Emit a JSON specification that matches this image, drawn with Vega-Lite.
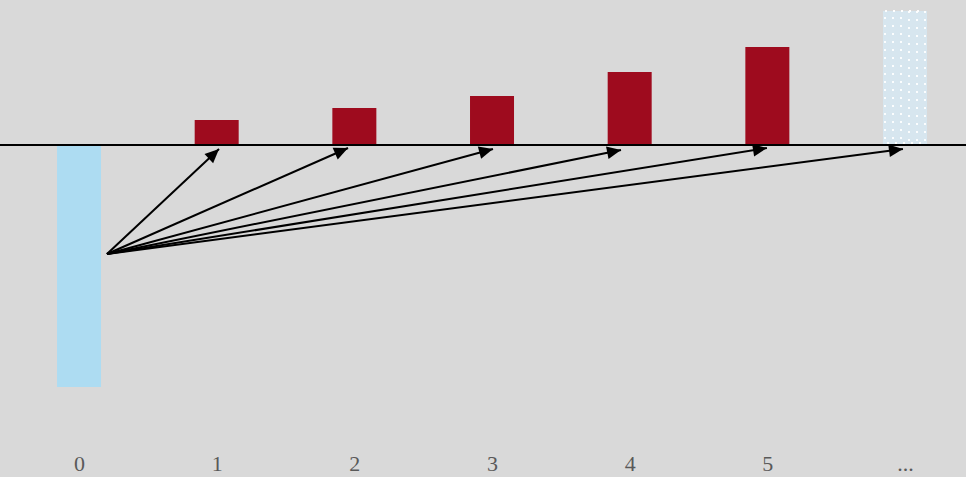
{
  "$schema": "https://vega.github.io/schema/vega-lite/v6.json",
  "width": 966,
  "height": 477,
  "autosize": {"type": "none"},
  "padding": 0,
  "background": "#d9d9d9",
  "config": {"view": {"stroke": null}},
  "datasets": {
    "bars": [
      {"period": 0, "value": -242, "kind": "outflow"},
      {"period": 1, "value": 25, "kind": "inflow"},
      {"period": 2, "value": 37, "kind": "inflow"},
      {"period": 3, "value": 49, "kind": "inflow"},
      {"period": 4, "value": 73, "kind": "inflow"},
      {"period": 5, "value": 98, "kind": "inflow"},
      {"period": 6, "value": 134, "kind": "more"}
    ],
    "arrows": [
      {"target": 1, "x0": 0.203, "y0": -109, "x": 1.017, "y": -4},
      {"target": 2, "x0": 0.203, "y0": -109, "x": 1.954, "y": -3},
      {"target": 3, "x0": 0.203, "y0": -109, "x": 3.007, "y": -4},
      {"target": 4, "x0": 0.203, "y0": -109, "x": 3.937, "y": -5},
      {"target": 5, "x0": 0.203, "y0": -109, "x": 4.997, "y": -3},
      {"target": 6, "x0": 0.203, "y0": -109, "x": 5.985, "y": -4}
    ]
  },
  "layer": [
    {
      "data": {"name": "bars"},
      "mark": {"type": "bar", "size": 44, "orient": "vertical"},
      "encoding": {
        "x": {
          "field": "period", "type": "quantitative",
          "scale": {"domain": [-0.574, 6.443], "nice": false, "zero": false, "padding": 0},
          "axis": {
            "values": [0, 1, 2, 3, 4, 5, 6],
            "format": "d",
            "labelExpr": "datum.value == 6 ? '...' : datum.label",
            "title": null, "domain": false, "ticks": false, "tickSize": 0, "grid": false,
            "labelPadding": -7, "labelFont": "Liberation Serif", "labelFontSize": 22,
            "labelColor": "#595959", "labelBaseline": "alphabetic"
          }
        },
        "y": {
          "field": "value", "type": "quantitative",
          "scale": {"domain": [-332, 145], "nice": false, "zero": false, "padding": 0},
          "axis": null
        },
        "y2": {"datum": 0},
        "color": {
          "field": "kind", "type": "nominal",
          "scale": {"domain": ["outflow", "inflow", "more"], "range": ["#addcf2", "#9e0b1e", "#d7e6ef"]},
          "legend": null
        }
      }
    },
    {
      "data": {"name": "bars"},
      "transform": [{"filter": "datum.kind == 'more'"}],
      "layer": [
        {"mark": {"type": "bar", "size": 40, "orient": "vertical", "fillOpacity": 0, "stroke": "#ffffff", "strokeWidth": 2, "strokeDash": [2, 6], "strokeOpacity": 0.9}},
        {"mark": {"type": "bar", "size": 24, "orient": "vertical", "fillOpacity": 0, "stroke": "#ffffff", "strokeWidth": 2, "strokeDash": [2, 6], "strokeOpacity": 0.9}},
        {"mark": {"type": "bar", "size": 8, "orient": "vertical", "fillOpacity": 0, "stroke": "#ffffff", "strokeWidth": 2, "strokeDash": [2, 6], "strokeOpacity": 0.9}}
      ],
      "encoding": {
        "x": {"field": "period", "type": "quantitative"},
        "y": {"field": "value", "type": "quantitative"},
        "y2": {"datum": 2}
      }
    },
    {
      "data": {"name": "bars"},
      "mark": {"type": "rule", "color": "#000000", "strokeWidth": 2},
      "encoding": {"y": {"datum": 0, "type": "quantitative"}}
    },
    {
      "data": {"name": "arrows"},
      "mark": {"type": "rule", "color": "#000000", "strokeWidth": 2},
      "encoding": {
        "x": {"field": "x0", "type": "quantitative"},
        "y": {"field": "y0", "type": "quantitative"},
        "x2": {"field": "x"},
        "y2": {"field": "y"}
      }
    },
    {
      "data": {"name": "arrows"},
      "transform": [
        {"calculate": "atan2((datum.x - datum.x0) * 137.67, datum.y - datum.y0) * 180 / PI", "as": "heading"}
      ],
      "mark": {"type": "point", "shape": "M0,0L-0.45,1L0.45,1Z", "filled": true, "color": "#000000", "opacity": 1, "size": 784},
      "encoding": {
        "x": {"field": "x", "type": "quantitative"},
        "y": {"field": "y", "type": "quantitative"},
        "angle": {"field": "heading", "type": "quantitative", "scale": null}
      }
    }
  ]
}
